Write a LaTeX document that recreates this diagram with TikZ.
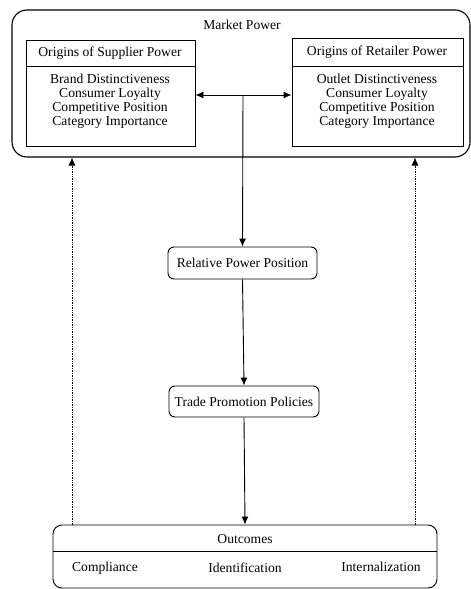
\documentclass[tikz,border=0pt]{standalone}
\usepackage{fontspec}
\setmainfont{Liberation Serif}
\usetikzlibrary{arrows.meta}
\begin{document}
\begin{tikzpicture}[x=1pt,y=-1pt,
  every node/.style={font=\fontsize{13.6}{15}\selectfont, inner sep=0pt},
  box/.style={draw, line width=0.9pt},
  rbox/.style={draw, line width=0.9pt, rounded corners=6pt},
  txt/.style={align=center},
  arr/.style={line width=0.9pt, -{Latex[length=8pt,width=7pt]}},
  darr/.style={line width=0.9pt, {Latex[length=8pt,width=7pt]}-{Latex[length=8pt,width=7pt]}},
  dotarr/.style={line width=0.7pt, densely dotted, -{Latex[length=8pt,width=7pt]}}
]
\useasboundingbox (0,0) rectangle (471,589);
% outer market power
\node[draw, line width=1.1pt, rounded corners=15pt, minimum width=458pt, minimum height=147pt] (mp) at (241,83.5) {};
\node[txt] (mpt) at (242,25) {Market Power};
% supplier
\node[box, minimum width=169pt, minimum height=106pt] (sup) at (110.5,93) {};
\draw[line width=0.9pt] (26,66) -- (195,66);
\node[txt] (supt) at (110,53) {Origins of Supplier Power};
\node[txt, font=\fontsize{13.6}{13.9}\selectfont] (supb) at (110,101) {Brand Distinctiveness\\Consumer Loyalty\\Competitive Position\\Category Importance};
% retailer
\node[box, minimum width=171pt, minimum height=108pt] (ret) at (377.5,92) {};
\draw[line width=0.9pt] (292,66) -- (463,66);
\node[txt] (rett) at (377,52) {Origins of Retailer Power};
\node[txt, font=\fontsize{13.6}{13.9}\selectfont] (retb) at (377,101) {Outlet Distinctiveness\\Consumer Loyalty\\Competitive Position\\Category Importance};
% middle
\coordinate (j) at (243,95);
\node[rbox, minimum width=149pt, minimum height=32pt] (rel) at (242.5,263) {Relative Power Position};
\node[rbox, minimum width=150pt, minimum height=31pt] (trade) at (244,401.5) {Trade Promotion Policies};
% outcomes
\node[draw, line width=0.9pt, rounded corners=9pt, minimum width=384pt, minimum height=63pt] (out) at (245,556.5) {};
\draw[line width=0.9pt] (53,551) -- (437,551);
\node[txt] (outt) at (245,539) {Outcomes};
\node[txt] (c1) at (105,568) {Compliance};
\node[txt] (c2) at (245,568) {Identification};
\node[txt] (c3) at (381,567) {Internalization};
% connectors
\draw[darr] (sup.east |- j) -- (ret.west |- j);
\draw[arr] (j) -- (rel.north);
\draw[arr] (rel.south) -- (trade.north);
\draw[arr] (trade.south) -- (out.north);
\coordinate (lb) at (72,525);
\coordinate (rb) at (415,525);
\draw[dotarr] (lb) -- (lb |- mp.south);
\draw[dotarr] (rb) -- (rb |- mp.south);
\end{tikzpicture}
\end{document}
